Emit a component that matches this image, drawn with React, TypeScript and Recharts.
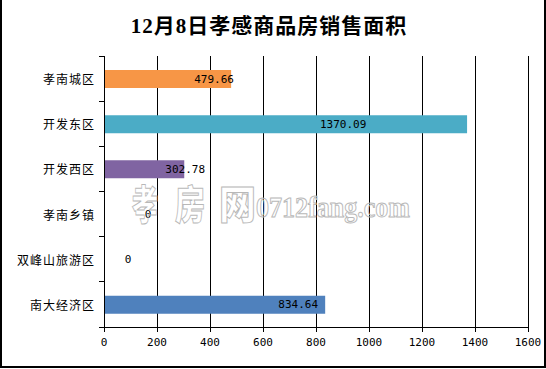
import React from "react";
import { BarChart, Bar, XAxis, YAxis, CartesianGrid, Cell } from "recharts";

const categories = ["孝南城区", "开发东区", "开发西区", "孝南乡镇", "双峰山旅游区", "南大经济区"];
const areas = [479.66, 1370.09, 302.78, 0, 0, 834.64];
const barColors = ["#F79646", "#4BACC6", "#8064A2", "#9BBB59", "#C0504D", "#4F81BD"];
const xTicks = [0, 200, 400, 600, 800, 1000, 1200, 1400, 1600];

// label offsets from the bar end, as they sit in the original picture
const labelShift = [-17, -124, 1, 43, 23, -27];

const W = 546;
const H = 369;
const TOP = 56;
const XAXIS_H = 42;
const BAND = (H - TOP - XAXIS_H) / categories.length;

const data = categories.map((name, i) => ({ name, value: areas[i] }));

const monoFont = "'DejaVu Sans Mono', monospace";

const CategoryTick = (props: any) => {
  const { x, y, payload, index } = props;
  const last = index === categories.length - 1;
  return (
    <g>
      <line x1={x - 5} x2={x} y1={y - BAND / 2} y2={y - BAND / 2} stroke="#000" />
      {last && <line x1={x - 5} x2={x} y1={y + BAND / 2} y2={y + BAND / 2} stroke="#000" />}
      <text
        x={x - 9}
        y={y}
        textAnchor="end"
        dominantBaseline="central"
        fontSize={12}
        letterSpacing={1}
        fontFamily="'Noto Sans CJK SC', sans-serif"
        fill="#000"
      >
        {payload.value}
      </text>
    </g>
  );
};

const ValueLabel = (props: any) => {
  const { x, y, width, height, value } = props;
  const row = Math.floor((y + height / 2 - TOP) / BAND);
  return (
    <text
      x={x + width + (labelShift[row] ?? 0)}
      y={y + height / 2}
      textAnchor="middle"
      dominantBaseline="central"
      fontSize={11}
      fontFamily={monoFont}
      fill="#000"
    >
      {value}
    </text>
  );
};

const cjk = "'Noto Sans CJK SC'";

const Watermark = () => (
  <svg
    width={W}
    height={H}
    style={{ position: "absolute", left: 0, top: 0, pointerEvents: "none" }}
  >
    <g fill="none" stroke="#b8b8b8" strokeWidth={1}>
      <text x={132} y={219} fontSize={40} fontWeight={900} fontFamily={cjk} textLength={26} lengthAdjust="spacingAndGlyphs">孝</text>
      <text x={175} y={219} fontSize={40} fontWeight={900} fontFamily={cjk} textLength={30} lengthAdjust="spacingAndGlyphs">房</text>
      <text x={219} y={219} fontSize={40} fontWeight={900} fontFamily={cjk} textLength={37} lengthAdjust="spacingAndGlyphs">网</text>
      <text x={256} y={217} fontSize={29} fontWeight="bold" fontFamily="'Liberation Serif', serif" textLength={154} lengthAdjust="spacingAndGlyphs">0712fang.com</text>
    </g>
  </svg>
);

export default function App() {
  return (
    <div
      style={{
        position: "absolute",
        left: 0,
        top: 0,
        width: W,
        height: H,
        background: "#fff",
      }}
    >
      <style>{".recharts-surface line, .recharts-cartesian-axis-line { shape-rendering: crispEdges; }"}</style>
      <div
        style={{
          position: "absolute",
          left: 0,
          top: 0,
          width: 542,
          height: 366,
          borderLeft: "2px solid #000",
          borderRight: "2px solid #000",
          borderBottom: "2px solid #000",
        }}
      />
      <div
        style={{
          position: "absolute",
          left: 0,
          top: 13,
          width: 538,
          height: 26,
          lineHeight: "26px",
          textAlign: "center",
          fontSize: 21,
          fontWeight: "bold",
          letterSpacing: 1,
          fontFamily: "'Liberation Serif', 'Noto Sans CJK SC', serif",
          color: "#000",
        }}
      >
        12月8日孝感商品房销售面积
      </div>
      <div style={{ position: "absolute", left: 0, top: 0 }}>
        <BarChart
          width={W}
          height={H}
          data={data}
          layout="vertical"
          margin={{ top: TOP, right: 18, left: 0, bottom: 0 }}
          barSize={18}
        >
          <CartesianGrid horizontal={false} vertical stroke="#000" />
          <XAxis
            type="number"
            domain={[0, 1600]}
            ticks={xTicks}
            height={XAXIS_H}
            tickSize={5}
            tickMargin={6}
            stroke="#000"
            tick={{ fill: "#000", fontSize: 11, fontFamily: monoFont }}
            interval={0}
          />
          <YAxis
            type="category"
            dataKey="name"
            width={104}
            tickLine={false}
            tickSize={0}
            tickMargin={0}
            stroke="#000"
            tick={<CategoryTick />}
            interval={0}
          />
          <Bar dataKey="value" isAnimationActive={false} minPointSize={1} label={<ValueLabel />}>
            {data.map((d, i) => (
              <Cell key={d.name} fill={d.value > 0 ? barColors[i] : "transparent"} />
            ))}
          </Bar>
        </BarChart>
      </div>
      <Watermark />
    </div>
  );
}
